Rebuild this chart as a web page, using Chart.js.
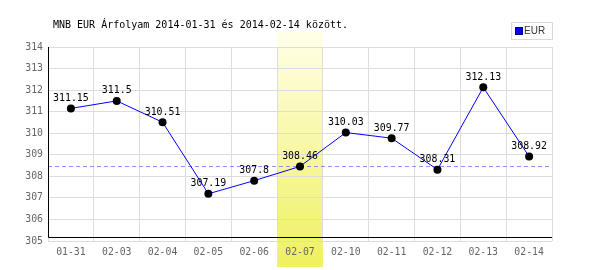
<!DOCTYPE html>
<html>
<head>
<meta charset="utf-8">
<script src="https://cdn.jsdelivr.net/npm/chart.js@4"></script>
<style>
  html, body { margin: 0; padding: 0; background: #fff; }
  #wrap { width: 600px; height: 270px; }
</style>
</head>
<body>
<div id="wrap"><canvas id="mainChart" width="600" height="270"></canvas></div>
<script>
// MNB EUR exchange rates
const labels = ['01-31', '02-03', '02-04', '02-05', '02-06', '02-07', '02-10', '02-11', '02-12', '02-13', '02-14'];
const rates = [311.15, 311.5, 310.51, 307.19, 307.8, 308.46, 310.03, 309.77, 308.31, 312.13, 308.92];
const yTicks = [305, 306, 307, 308, 309, 310, 311, 312, 313, 314];
const highlightIndex = 5;
const referenceRate = 308.46;
const titleText = 'MNB EUR Árfolyam 2014-01-31 és 2014-02-14 között.';
const seriesName = 'EUR';

const mono = '"DejaVu Sans Mono", monospace';

// yellow band behind the selected day
const bandPlugin = {
    id: 'band',
    beforeDraw(chart) {
        const { ctx } = chart;
        const x = chart.scales.x;
        const half = (x.getPixelForValue(1) - x.getPixelForValue(0)) / 2;
        const cx = x.getPixelForValue(highlightIndex);
        const grad = ctx.createLinearGradient(0, 32, 0, 267);
        grad.addColorStop(0, 'rgb(255,255,232)');
        grad.addColorStop(1, 'rgb(240,240,96)');
        ctx.save();
        ctx.fillStyle = grad;
        ctx.fillRect(cx - half, 32, half * 2, 235);
        ctx.restore();
    }
};

// axes lines, dashed reference line, title, legend
const extrasPlugin = {
    id: 'extras',
    beforeDatasetsDraw(chart) {
        const { ctx, chartArea } = chart;
        const y = chart.scales.y;
        const yRef = Math.round(y.getPixelForValue(referenceRate)) + 0.5;
        ctx.save();
        ctx.strokeStyle = 'rgba(110,110,255,0.75)';
        ctx.lineWidth = 1;
        ctx.setLineDash([4, 3]);
        ctx.beginPath();
        ctx.moveTo(chartArea.left, yRef);
        ctx.lineTo(chartArea.right, yRef);
        ctx.stroke();
        ctx.setLineDash([]);

        ctx.strokeStyle = '#000';
        ctx.beginPath();
        ctx.moveTo(chartArea.left + 0.5, chartArea.top);
        ctx.lineTo(chartArea.left + 0.5, 237.5);
        ctx.lineTo(chartArea.right, 237.5);
        ctx.stroke();
        ctx.restore();
    },
    afterDraw(chart) {
        const { ctx } = chart;
        ctx.save();
        ctx.fillStyle = '#000';
        ctx.font = '10px ' + mono;
        ctx.textBaseline = 'middle';
        ctx.textAlign = 'left';
        ctx.fillText(titleText, 53, 25);

        // legend box
        ctx.fillStyle = '#fff';
        ctx.fillRect(511, 22, 41, 17);
        ctx.strokeStyle = '#d8d8d8';
        ctx.strokeRect(511.5, 22.5, 41, 17);
        ctx.fillStyle = '#0000ff';
        ctx.fillRect(516, 28, 6, 6);
        ctx.strokeStyle = '#000080';
        ctx.strokeRect(515.5, 27.5, 7, 7);
        ctx.fillStyle = '#333';
        ctx.font = '10px "Liberation Sans", sans-serif';
        ctx.fillText(seriesName, 524, 31);
        ctx.restore();
    },
    afterDatasetsDraw(chart) {
        const { ctx } = chart;
        const meta = chart.getDatasetMeta(0);
        ctx.save();
        ctx.fillStyle = '#000';
        ctx.font = '9.9px ' + mono;
        ctx.textAlign = 'center';
        ctx.textBaseline = 'middle';
        meta.data.forEach((pt, i) => {
            ctx.fillText(String(rates[i]), pt.x, pt.y - 10);
        });
        ctx.restore();
    }
};

new Chart(document.getElementById('mainChart').getContext('2d'), {
    type: 'line',
    data: {
        labels: labels,
        datasets: [{
            label: seriesName,
            data: rates,
            borderColor: '#0000ff',
            borderWidth: 1,
            pointRadius: 4,
            pointBackgroundColor: '#000',
            pointBorderColor: '#000',
            pointBorderWidth: 0,
            tension: 0
        }]
    },
    options: {
        responsive: false,
        animation: false,
        layout: { padding: { left: 0, right: 48, top: 47, bottom: 0 } },
        plugins: {
            legend: { display: false },
            title: { display: false },
            tooltip: { enabled: false }
        },
        scales: {
            x: {
                offset: true,
                grid: { color: '#dddddd', offset: true, drawTicks: false },
                border: { display: false },
                ticks: {
                    color: '#666',
                    font: { family: mono, size: 9.8 },
                    padding: 6,
                    maxRotation: 0
                },
                afterFit(scale) { scale.height = 29; }
            },
            y: {
                min: 305,
                max: 314,
                afterBuildTicks(scale) { scale.ticks = yTicks.map(v => ({ value: v })); },
                grid: { color: '#dddddd', drawTicks: false },
                border: { display: false },
                ticks: {
                    color: '#666',
                    font: { family: mono, size: 9.8 },
                    padding: 5
                },
                afterFit(scale) { scale.width = 48; }
            }
        }
    },
    plugins: [bandPlugin, extrasPlugin]
});
</script>
</body>
</html>
